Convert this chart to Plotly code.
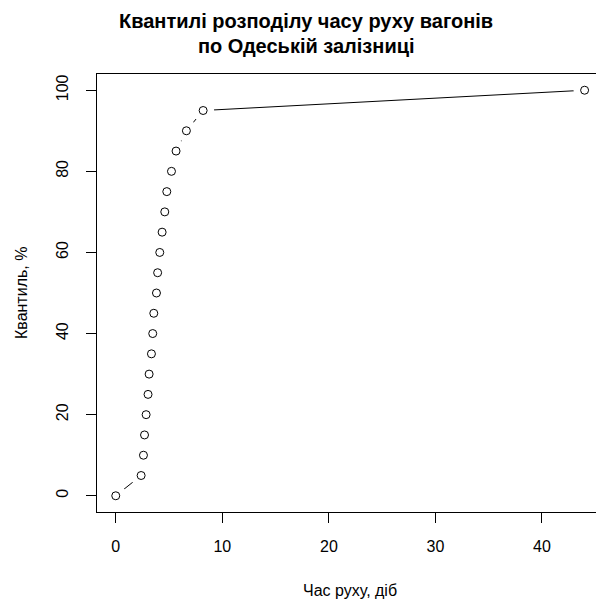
import plotly.graph_objects as go

quantile_pct = [0, 5, 10, 15, 20, 25, 30, 35, 40, 45, 50, 55, 60, 65, 70, 75, 80, 85, 90, 95, 100]
travel_days = [0, 2.38, 2.6, 2.7, 2.85, 3.03, 3.13, 3.35, 3.47, 3.57, 3.82, 3.93,
               4.13, 4.35, 4.6, 4.79, 5.23, 5.66, 6.63, 8.2, 44]

x_ticks = [0, 10, 20, 30, 40]
y_ticks = [0, 20, 40, 60, 80, 100]

title_line1 = "Квантилі розподілу часу руху вагонів"
title_line2 = "по Одеській залізниці"
x_title = "Час руху, діб"
y_title = "Квантиль, %"

FONT = "Liberation Sans, Arial, sans-serif"
W, H = 596, 605
L, R, T, B = 97, 0, 74, 93
PW, PH = W - L - R, H - T - B


def px_x(px):
    return (px - L) / PW


def px_y(py):
    return (H - B - py) / PH


fig = go.Figure()
fig.add_trace(go.Scatter(x=travel_days, y=quantile_pct, mode="lines",
                         line=dict(color="black", width=1), hoverinfo="skip",
                         cliponaxis=False))
fig.add_trace(go.Scatter(x=travel_days, y=quantile_pct, mode="markers",
                         marker=dict(symbol="circle", size=22, color="white",
                                     line=dict(width=0)), hoverinfo="skip",
                         cliponaxis=False))
fig.add_trace(go.Scatter(x=travel_days, y=quantile_pct, mode="markers",
                         marker=dict(symbol="circle", size=8, color="white",
                                     line=dict(color="black", width=1)),
                         cliponaxis=False))

annotations = [
    dict(text="<b>" + title_line1 + "</b>", xref="paper", yref="paper",
         x=px_x(306), y=px_y(21), xanchor="center", yanchor="middle",
         showarrow=False, font=dict(family=FONT, size=20, color="black")),
    dict(text="<b>" + title_line2 + "</b>", xref="paper", yref="paper",
         x=px_x(306), y=px_y(46), xanchor="center", yanchor="middle",
         showarrow=False, font=dict(family=FONT, size=20, color="black")),
    dict(text=x_title, xref="paper", yref="paper",
         x=px_x(350), y=px_y(590), xanchor="center", yanchor="middle",
         showarrow=False, font=dict(family=FONT, size=16, color="black")),
    dict(text=y_title, xref="paper", yref="paper", textangle=-90,
         x=px_x(21), y=px_y(293), xanchor="center", yanchor="middle",
         showarrow=False, font=dict(family=FONT, size=16, color="black")),
]

fig.update_layout(
    width=W, height=H,
    margin=dict(l=L, r=R, t=T, b=B, autoexpand=False),
    paper_bgcolor="white", plot_bgcolor="white",
    showlegend=False,
    font=dict(family=FONT, size=16, color="black"),
    annotations=annotations,
    xaxis=dict(range=[-1.76, 45.07], tickvals=x_ticks, ticks="outside", ticklen=10,
               tickcolor="black", showline=True, linecolor="black", linewidth=1,
               mirror=True, showgrid=False, zeroline=False, automargin=False,
               ticklabelstandoff=10, tickfont=dict(size=16)),
    yaxis=dict(range=[-4, 104], tickvals=y_ticks, ticks="outside", ticklen=10,
               tickcolor="black", showline=True, linecolor="black", linewidth=1,
               mirror=False, showgrid=False, zeroline=False, tickangle=-90,
               automargin=False, ticklabelstandoff=12, tickfont=dict(size=16)),
)

fig.write_html(
    "out.html",
    config={"displayModeBar": False},
    post_script="document.body.style.margin='0';document.body.style.overflow='hidden';",
)
